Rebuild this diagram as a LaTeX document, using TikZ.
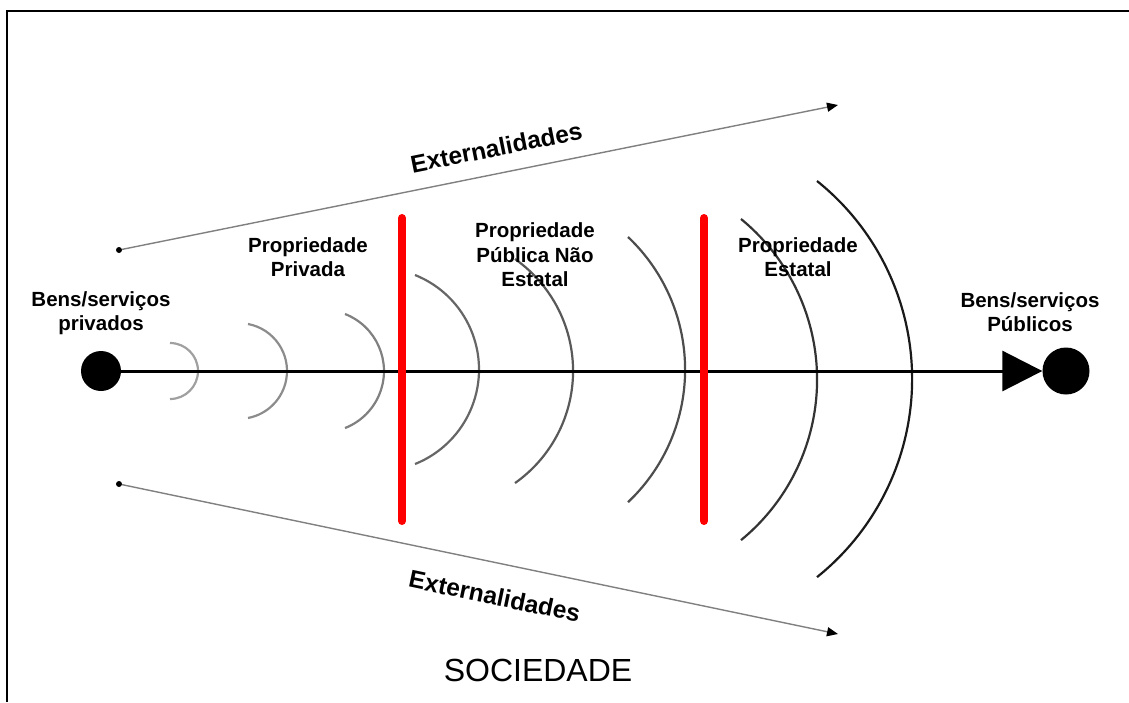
\documentclass[tikz,border=0pt]{standalone}
\usepackage{fontspec}
\setmainfont{Liberation Sans}
\usetikzlibrary{arrows.meta}

\definecolor{wave1}{HTML}{A0A0A0}
\definecolor{wave2}{HTML}{8C8C8C}
\definecolor{wave3}{HTML}{808080}
\definecolor{wave4}{HTML}{666666}
\definecolor{wave5}{HTML}{595959}
\definecolor{wave6}{HTML}{4D4D4D}
\definecolor{wave7}{HTML}{333333}
\definecolor{wave8}{HTML}{1A1A1A}
\definecolor{extgray}{HTML}{808080}

\begin{document}
\begin{tikzpicture}[x=1pt,y=-1pt]
    \tikzstyle{dot} = [circle, fill=black, inner sep=0pt, minimum size=40pt]
    \tikzstyle{bigdot} = [circle, fill=black, inner sep=0pt, minimum size=47pt]
    \tikzstyle{smalldot} = [circle, fill=black, inner sep=0pt, minimum size=6pt]
    \tikzstyle{axisline} = [draw, line width=3pt, -{Triangle[length=40pt,width=40pt]}]
    \tikzstyle{extline} = [draw=extgray, line width=1.4pt, -{Triangle[length=11pt,width=9pt,fill=black,color=black]}]
    \tikzstyle{wave} = [draw, line width=2.2pt]
    \tikzstyle{barrier} = [draw=red, line width=8pt, line cap=round]
    \tikzstyle{txt} = [align=center, font=\bfseries\fontsize{20.5}{24.5}\selectfont]
    \tikzstyle{exttxt} = [font=\bfseries\fontsize{24.5}{28}\selectfont]

    \useasboundingbox (0,0) rectangle (1129,702);
    % frame
    \draw [line width=2pt] (7,702) -- (7,11) -- (1129,11);
    %
    \node [dot] (priv) at (101,371) {};
    \node [bigdot] (pub) at (1066,371) {};
    %
    \draw [wave, wave1] (170,343) arc[start angle=-90, end angle=90, radius=28];
    \draw [wave, wave2] (248,324) arc[start angle=-79.4, end angle=79.4, radius=47.8];
    \draw [wave, wave3] (345,314) arc[start angle=-68.7, end angle=68.7, radius=61.2];
    \draw [wave, wave4] (415,275) arc[start angle=-68.2, end angle=68.2, radius=101.8];
    \draw [wave, wave5] (515,259) arc[start angle=-54.8, end angle=54.8, radius=137.1];
    \draw [wave, wave6] (628,237) arc[start angle=-46.6, end angle=46.6, radius=182.5];
    \draw [wave, wave7] (741,219) arc[start angle=-50.7, end angle=50.7, radius=207.5];
    \draw [wave, wave8] (817,181) arc[start angle=-51.3, end angle=51.3, radius=253.8];
    %
    \path [axisline] (priv.center) -- (pub.west);
    %
    \coordinate (bar1top) at (402,218);
    \coordinate (bar1bot) at (402,521);
    \coordinate (bar2top) at (704,218);
    \coordinate (bar2bot) at (704,521);
    \path [barrier] (bar1top) -- (bar1bot);
    \path [barrier] (bar2top) -- (bar2bot);
    %
    \node [smalldot] (extup) at (119,250) {};
    \coordinate (extupend) at (838,105);
    \path [extline] (extup) -- (extupend)
        node [pos=.53, sloped, above=13pt, exttxt] (extuptxt) {Externalidades};
    \node [smalldot] (extdown) at (119,484) {};
    \coordinate (extdownend) at (838,634);
    \path [extline] (extdown) -- (extdownend)
        node [pos=.53, sloped, below=20pt, exttxt] (extdowntxt) {Externalidades};
    %
    \node [txt] (privtxt) at (101,313) {Bens/serviços\\privados};
    \node [txt] (pubtxt) at (1030,312) {Bens/serviços\\Públicos};
    \node [txt] (proppriv) at (308,257) {Propriedade\\Privada};
    \node [txt] (proppub) at (535,255) {Propriedade\\Pública Não\\Estatal};
    \node [txt] (propest) at (798,257) {Propriedade\\Estatal};
    \node [font=\fontsize{32}{38}\selectfont] (soc) at (538,670) {SOCIEDADE};
\end{tikzpicture}
\end{document}
